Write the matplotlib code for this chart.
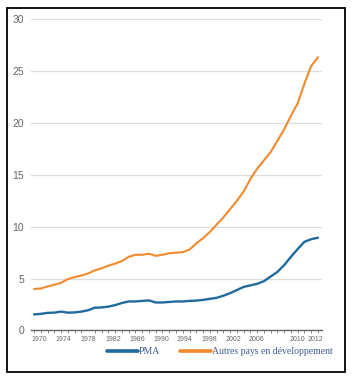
import numpy as np
import matplotlib
matplotlib.use("Agg")
import matplotlib.pyplot as plt
from matplotlib.patches import Rectangle

# Data (annual values, 1970-2012)
years = np.arange(1970, 2013)
pma = [1.55, 1.6, 1.7, 1.72, 1.82, 1.72, 1.74, 1.82, 1.95, 2.2,
       2.22, 2.3, 2.45, 2.65, 2.8, 2.8, 2.85, 2.9, 2.7, 2.7,
       2.75, 2.8, 2.8, 2.85, 2.88, 2.95, 3.05, 3.15, 3.35, 3.6,
       3.9, 4.2, 4.35, 4.5, 4.75, 5.2, 5.65, 6.3, 7.1, 7.85,
       8.55, 8.8, 8.95]
autres = [4.0, 4.05, 4.25, 4.4, 4.6, 4.95, 5.15, 5.3, 5.5, 5.8,
          6.0, 6.25, 6.45, 6.7, 7.1, 7.3, 7.3, 7.4, 7.2, 7.3,
          7.45, 7.5, 7.55, 7.8, 8.4, 8.9, 9.5, 10.2, 10.9, 11.7,
          12.5, 13.4, 14.6, 15.6, 16.4, 17.2, 18.3, 19.4, 20.7, 21.9,
          23.8, 25.5, 26.35]
series_names = ["PMA", "Autres pays en développement"]

# tick labels as they sit in the source (category axis, uneven spacing)
xtick_labels = ["1970", "1974", "1978", "1982", "1986", "1990", "1994",
                "1998", "2002", "2006", "2010", "2012"]
xtick_pos = [1970.8, 1974.3, 1978.0, 1981.7, 1985.2, 1988.8, 1992.3,
             1995.9, 1999.5, 2002.9, 2008.9, 2011.7]
yticks = [0, 5, 10, 15, 20, 25, 30]

blue = "#1f6b9e"
orange = "#f08a2c"

fig = plt.figure(figsize=(3.54, 3.78), dpi=100)
ax = fig.add_axes([0.0876, 0.1257, 0.822, 0.823])

l1, = ax.plot(years, pma, color=blue, lw=1.7, solid_capstyle="round")
l2, = ax.plot(years, autres, color=orange, lw=1.5, solid_capstyle="round")

ax.set_xlim(1969.55, 2012.6)
ax.set_ylim(0, 30)
ax.set_yticks(yticks)
ax.set_yticklabels([str(v) for v in yticks], fontsize=7.5, color="#666666",
                   family="Liberation Sans")
ax.yaxis.grid(True, color="#dddddd", lw=0.9)
ax.set_axisbelow(True)
ax.tick_params(axis="y", length=0, pad=5)

ax.set_xticks(years, minor=True)
ax.set_xticks(xtick_pos)
ax.set_xticklabels(xtick_labels, fontsize=5, color="#666666",
                   family="Liberation Sans")
ax.tick_params(axis="x", which="major", length=0, pad=4)
ax.tick_params(axis="x", which="minor", length=2, color="#777777", width=0.6)

for s in ["top", "right", "left"]:
    ax.spines[s].set_visible(False)
ax.spines["bottom"].set_color("#666666")
ax.spines["bottom"].set_linewidth(1.0)

leg = fig.legend([l1, l2], series_names, loc="center left",
                 bbox_to_anchor=(0.29, 0.07), ncol=2, frameon=False,
                 prop={"family": "Liberation Serif", "size": 7},
                 labelcolor="#3c5d8f", handlelength=3.2, handletextpad=0.15,
                 columnspacing=2.0, borderaxespad=0)
for h in leg.legend_handles:
    h.set_linewidth(2.6)

# outer black frame
fig.patches.append(Rectangle((7 / 354, 1 - 372 / 378), 338 / 354, 364 / 378,
                             transform=fig.transFigure, fill=False,
                             edgecolor="black", lw=1.3))

plt.savefig("out.png", dpi=100)
